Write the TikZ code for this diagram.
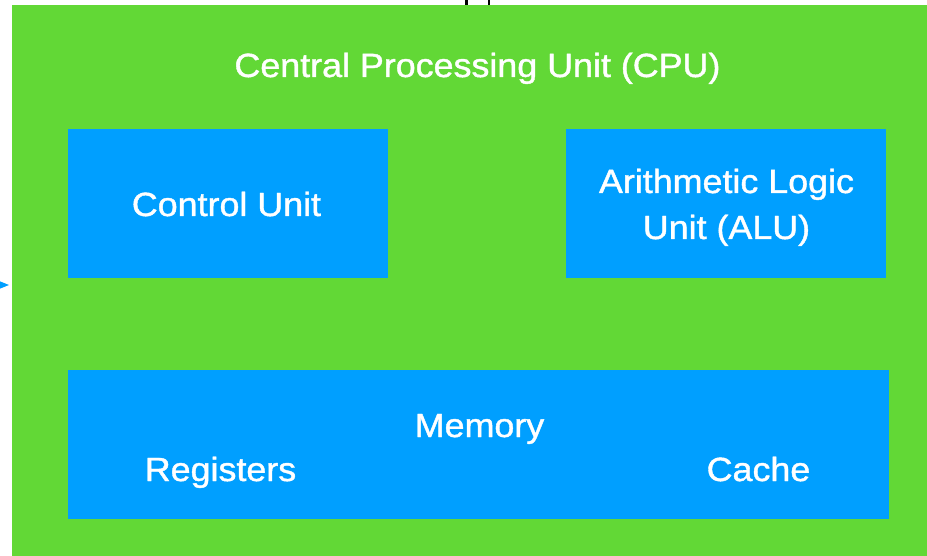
\documentclass[tikz,border=0pt]{standalone}
\usepackage{fontspec}
\setmainfont{Liberation Sans}[FakeStretch=1.07,RawFeature={embolden=1.2}]
\usetikzlibrary{arrows.meta}
\definecolor{cpugreen}{HTML}{62D836}
\definecolor{unitblue}{HTML}{009FFF}
\begin{document}
\begin{tikzpicture}[x=1pt,y=-1pt,
  label/.style={text=white,font=\fontsize{33.5}{46}\selectfont,inner sep=0pt,anchor=base},
  unitbox/.style={fill=unitblue,draw=none,inner sep=0pt,anchor=north west},
  wire/.style={draw=black,line width=2.5pt}]
  \useasboundingbox (0,0) rectangle (927,556);
  % CPU frame
  \node[fill=cpugreen,draw=none,inner sep=0pt,anchor=north west,minimum width=915pt,minimum height=551pt] (cpu) at (12,5) {};
  \node[label] (title) at (477.5,77) {Central Processing Unit (CPU)};
  % functional units
  \node[unitbox,minimum width=320pt,minimum height=149pt] (cu) at (68,129) {};
  \node[label] (culbl) at (226.5,216) {Control Unit};
  \node[unitbox,minimum width=320pt,minimum height=149pt] (alu) at (566,129) {};
  \node[label] (alulblA) at (726.5,193) {Arithmetic Logic};
  \node[label] (alulblB) at (726.5,239) {Unit (ALU)};
  \node[unitbox,minimum width=821pt,minimum height=149pt] (mem) at (68,370) {};
  \node[label] (memlbl) at (479.5,437) {Memory};
  \node[label] (reg) at (220.5,481) {Registers};
  \node[label] (cache) at (758.5,481) {Cache};
  % incoming connections
  \coordinate (inA) at (466.5,-2);
  \coordinate (inB) at (489,-2);
  \draw[wire] (inA) -- (inA |- cpu.north);
  \draw[wire] (inB) -- (inB |- cpu.north);
  \coordinate (inL) at (-10,285);
  \coordinate (tipL) at (9,285);
  \draw[draw=unitblue,line width=1pt,-{Triangle[length=9pt,width=7pt]}] (inL) -- (tipL);
\end{tikzpicture}
\end{document}
